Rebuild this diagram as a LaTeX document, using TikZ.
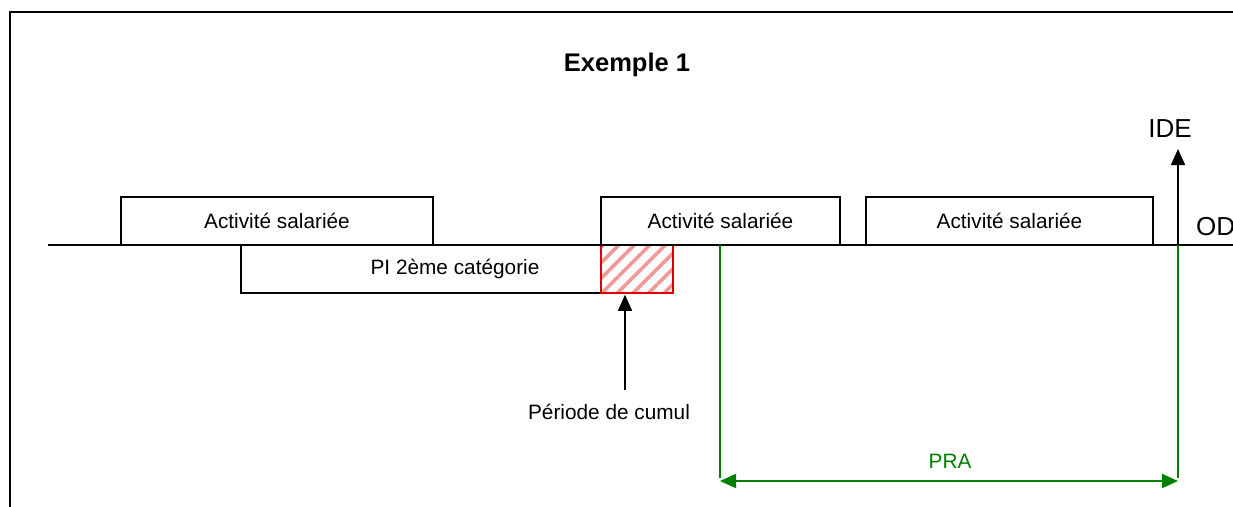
\documentclass[tikz,border=0pt]{standalone}
\usepackage{fontspec}
\setmainfont{Liberation Sans}
\usetikzlibrary{arrows.meta,patterns.meta}
\definecolor{grn}{RGB}{0,128,0}
\definecolor{hatch}{RGB}{245,150,150}
\definecolor{redb}{RGB}{225,0,0}
\begin{document}
\begin{tikzpicture}[x=1pt,y=-1pt,
  lbl/.style={font=\fontsize{20.8}{24}\selectfont, inner sep=0pt},
  bar/.style={draw, line width=1.4pt, fill=white, minimum height=48pt, inner sep=0pt, font=\fontsize{20.8}{24}\selectfont},
  blk/.style={line width=1.5pt, -{Triangle[length=16pt,width=14pt]}},
  grnarr/.style={grn, line width=2pt, {Triangle[length=16pt,width=14pt]}-{Triangle[length=16pt,width=14pt]}}]
\useasboundingbox (0,0) rectangle (1233,506);
\clip (0,0) rectangle (1233,506);
% frame
\draw[line width=2.2pt] (10,520) -- (10,12) -- (1250,12);
% title
\node[font=\fontsize{25.5}{30}\selectfont\bfseries, inner sep=0pt] (title) at (627,65) {Exemple 1};
% timeline
\coordinate (tl0) at (48,245);
\coordinate (tl1) at (1240,245);
\draw[line width=1.4pt] (tl0) -- (tl1);
% boxes
\node[bar, minimum width=312pt] (a1) at (277,221) {Activité salariée};
\node[bar, minimum width=432pt] (pi) at (457,269) {\hspace*{-4pt}PI 2ème catégorie};
\node[draw=redb, line width=1.8pt, pattern={Lines[angle=45,distance=11pt,line width=3.5pt]}, pattern color=hatch, minimum width=72pt, minimum height=48pt, inner sep=0pt] (cumul) at (637,269) {};
\node[bar, minimum width=239pt] (a2) at (720.5,221) {Activité salariée};
\node[bar, minimum width=287pt] (a3) at (1009.5,221) {Activité salariée};
% labels
\node[lbl] (per) at (609,412) {Période de cumul};
\draw[blk] (625,390) -- (cumul.south -| 625,0);
\node[lbl, font=\fontsize{26}{30}\selectfont] (ide) at (1170,129) {IDE};
\node[lbl, font=\fontsize{26}{30}\selectfont, anchor=west] (od) at (1196,227) {OD};
\coordinate (ideb) at (1178,245);
\coordinate (idet) at (1178,149);
\draw[blk] (ideb) -- (idet);
% PRA
\coordinate (g1t) at (720,245);
\coordinate (g1b) at (720,478);
\coordinate (g2t) at (1178,245);
\coordinate (g2b) at (1178,478);
\draw[grn, line width=1.6pt] (g1t) -- (g1b);
\draw[grn, line width=1.6pt] (g2t) -- (g2b);
\coordinate (pl) at (720,481);
\coordinate (pr) at (1178,481);
\draw[grnarr] (pl) -- (pr);
\node[lbl, text=grn] (pra) at (950,461) {PRA};
\end{tikzpicture}
\end{document}
